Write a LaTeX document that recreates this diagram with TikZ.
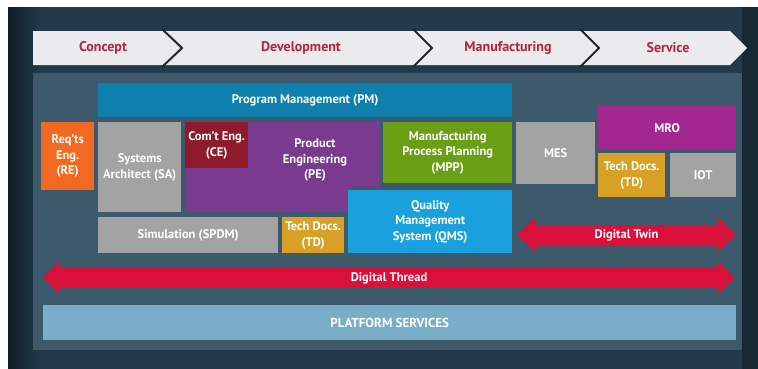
\documentclass[tikz,border=0pt]{standalone}
\usepackage{fontspec}
\setmainfont{PT Sans}
\definecolor{bgdark}{HTML}{233A4A}
\definecolor{bgleft}{HTML}{0F1C25}
\definecolor{panel}{HTML}{3C5A6B}
\definecolor{chevfill}{HTML}{EBEBED}
\definecolor{chevtext}{HTML}{B3243F}
\definecolor{pmblue}{HTML}{0F7FAE}
\definecolor{qmsblue}{HTML}{1AA0DC}
\definecolor{mppgreen}{HTML}{6A9E14}
\definecolor{pepurple}{HTML}{7A3B8F}
\definecolor{cered}{HTML}{8E1A2C}
\definecolor{reorange}{HTML}{F26A22}
\definecolor{boxgray}{HTML}{A3A3A3}
\definecolor{tdgold}{HTML}{D9A026}
\definecolor{mromag}{HTML}{A3278F}
\definecolor{platblue}{HTML}{7AAEC8}
\definecolor{arrowred}{HTML}{D8103A}
\tikzset{
  boxfont/.style={font=\bfseries\fontsize{12.5}{15.5}\selectfont},
  box/.style={fill=#1, text=white, boxfont, align=center, inner sep=0pt, anchor=north west},
  label/.style={text=white, boxfont, align=center, inner sep=0pt},
  phase/.style={text=chevtext, font=\bfseries\fontsize{14}{16}\selectfont, inner sep=0pt},
  chevline/.style={draw=black!85, line width=2pt}
}
\begin{document}
\begin{tikzpicture}[x=1pt,y=-1pt]
\useasboundingbox (0,0) rectangle (758,368);
\fill[white] (0,0) rectangle (758,368);
\fill[bgdark] (8,7) rectangle (760,372);
\fill[left color=bgleft, right color=bgdark] (8,7) rectangle (40,372);
\fill[bgleft, opacity=0.6] (742,7) rectangle (760,372);
\fill[panel] (33,73) rectangle (742,350);
% phase bar
\fill[chevfill] (33,31) -- (730,31) -- (747,48) -- (730,65) -- (33,65) -- cycle;
\draw[chevline] (162,29) -- (182,48) -- (162,67);
\draw[chevline] (413,29) -- (432,48) -- (413,67);
\draw[chevline] (580,29) -- (599,48) -- (580,67);
\node[phase] (concept) at (103,48) {Concept};
\node[phase] (development) at (301,48) {Development};
\node[phase] (manufacturing) at (508,48) {Manufacturing};
\node[phase] (service) at (668,48) {Service};
% boxes
\node[box=pmblue, minimum width=414pt, minimum height=34pt] (pm) at (98,83) {Program Management (PM)};
\node[box=reorange, minimum width=53pt, minimum height=68pt] (re) at (41,122) {Req'ts\\Eng.\\(RE)};
\node[box=boxgray, minimum width=83pt, minimum height=90pt] (sa) at (98,122) {Systems\\Architect (SA)};
\fill[pepurple] (248,122) -- (380,122) -- (380,187) -- (348,187) -- (348,212) -- (185,212) -- (185,168) -- (248,168) -- cycle;
\node[box=cered, minimum width=63pt, minimum height=46pt] (ce) at (185,122) {Com't Eng.\\(CE)};
\node[label] (pe) at (315,160) {Product\\Engineering\\(PE)};
\node[box=mppgreen, minimum width=129pt, minimum height=61pt] (mpp) at (383,122) {Manufacturing\\Process Planning\\(MPP)};
\node[box=qmsblue, minimum width=164pt, minimum height=63pt] (qms) at (348,190) {Quality\\Management\\System (QMS)};
\node[box=boxgray, minimum width=180pt, minimum height=36pt] (sim) at (98,217) {Simulation (SPDM)};
\node[box=tdgold, minimum width=62pt, minimum height=36pt] (tda) at (282,217) {Tech Docs.\\(TD)};
\node[box=boxgray, minimum width=79pt, minimum height=62pt] (mes) at (516,122) {MES};
\node[box=mromag, minimum width=138pt, minimum height=43pt] (mro) at (598,106) {MRO};
\node[box=tdgold, minimum width=67pt, minimum height=44pt] (tdb) at (598,153) {Tech Docs.\\(TD)};
\node[box=boxgray, minimum width=66pt, minimum height=44pt] (iot) at (670,153) {IOT};
% arrows
\fill[arrowred] (517,235) -- (535,218) -- (535,225) -- (718,225) -- (718,218) -- (736,235)
  -- (718,252) -- (718,246) -- (535,246) -- (535,252) -- cycle;
\node[label] (twin) at (626.5,235.5) {Digital Twin};
\fill[arrowred] (43,277.5) -- (60,261) -- (60,268) -- (718,268) -- (718,261) -- (735,277.5)
  -- (718,294) -- (718,287) -- (60,287) -- (60,294) -- cycle;
\node[label] (thread) at (389,278) {Digital Thread};
% platform
\node[box=platblue, minimum width=693pt, minimum height=35pt, font=\bfseries\fontsize{13}{15}\selectfont] (platform) at (43,305) {PLATFORM SERVICES};
\end{tikzpicture}
\end{document}
